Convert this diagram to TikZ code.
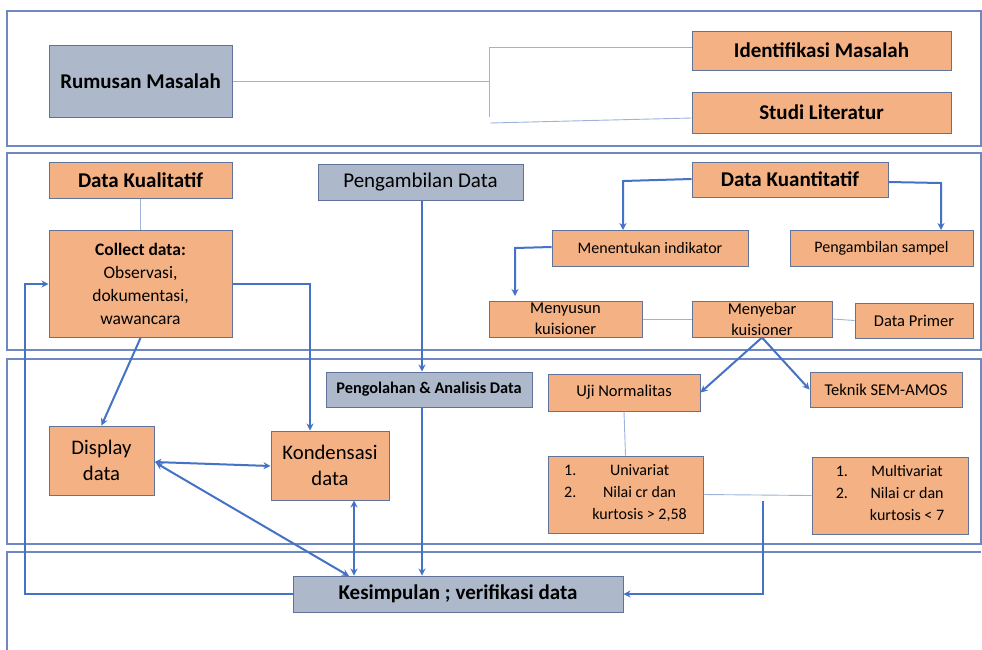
\documentclass[tikz,border=0pt]{standalone}
\usepackage{fontspec}
\setmainfont{Carlito}
\usetikzlibrary{arrows.meta}
\definecolor{orangef}{HTML}{F4B183}
\definecolor{oborder}{HTML}{61739A}
\definecolor{grayf}{HTML}{ADB9CA}
\definecolor{arrowblue}{HTML}{4472C4}
\definecolor{thinblue}{HTML}{9DB3DC}
\definecolor{framec}{HTML}{6F88C2}
\newcommand\fsz[1]{\fontsize{#1}{#1}\selectfont}
\tikzset{
  frame/.style={draw=framec, line width=1.3pt},
  obox/.style={fill=orangef, draw=oborder, line width=1pt, inner sep=0pt, align=center, text=black},
  gbox/.style={fill=grayf, draw=oborder, line width=1pt, inner sep=0pt, align=center, text=black},
  arr/.style={draw=arrowblue, line width=2pt, -{Stealth[length=7pt,width=7pt]}},
  darr/.style={draw=arrowblue, line width=2pt, {Stealth[length=7pt,width=7pt]}-{Stealth[length=7pt,width=7pt]}},
  thin/.style={draw=thinblue, line width=0.9pt},
  sz/.style n args={2}{minimum width=#1pt, minimum height=#2pt}
}
\begin{document}
\begin{tikzpicture}[x=1pt,y=-1pt]
\useasboundingbox (0,0) rectangle (982,649);
\fill[white] (0,0) rectangle (982,649);
% frames
\draw[frame] (7,11) rectangle (981,146);
\draw[frame] (7,153) rectangle (981,350);
\draw[frame] (7,359) rectangle (981,544);
\draw[frame] (7,655) -- (7,552) -- (981,552);
% top section
\node[gbox, sz={183}{72}, font=\bfseries\fsz{21}] (rm) at (140.5,81) {Rumusan Masalah};
\node[obox, sz={259}{39}, font=\bfseries\fsz{21}] (im) at (821.5,50.5) {Identifikasi Masalah};
\node[obox, sz={259}{41}, font=\bfseries\fsz{21}] (sl) at (821.5,112.5) {Studi Literatur};
\coordinate (br) at (489,81);
\draw[thin] (rm.east) -- (br);
\draw[thin] (489,47) -- (489,117);
\draw[thin] (489,47) -- (im.west |- 0,47);
\draw[thin] (490,123) -- (sl.west |- 0,118);
% second section
\node[obox, sz={183}{36}, font=\bfseries\fsz{21}] (dkl) at (140.5,180) {Data Kualitatif};
\node[obox, sz={183}{107}, font=\fsz{17.5}, align=center] (cd) at (140.5,284) {\textbf{Collect data:}\\[5.5pt]Observasi,\\[5.5pt]dokumentasi,\\[5.5pt]wawancara};
\node[gbox, sz={205}{36}, font=\fsz{21}] (pd) at (420.5,182) {Pengambilan Data};
\node[obox, sz={196}{35}, font=\bfseries\fsz{21}] (dkn) at (790,179.5) {Data Kuantitatif};
\node[obox, sz={196}{36}, font=\fsz{16}] (mi) at (650,248) {Menentukan indikator};
\node[obox, sz={183}{36}, font=\fsz{16}] (ps) at (881.5,248) {Pengambilan sampel};
\node[obox, sz={153}{36}, font=\fsz{16.5}] (mk) at (565.5,319) {Menyusun\\[4.5pt]kuisioner};
\node[obox, sz={140}{36}, font=\fsz{16.5}] (mb) at (762,319) {Menyebar\\[4.5pt]kuisioner};
\node[obox, sz={118}{35}, font=\fsz{16.5}] (dp) at (914,320.5) {Data Primer};
\draw[thin] (dkl.south) -- (cd.north);
\draw[thin] (mk.east) -- (mb.west);
\draw[thin] (mb.east) -- (dp.west);
\draw[arr] (dkn.west |- 0,179) -- (623,181) -- (623,230);
\draw[arr] (dkn.east |- 0,182) -- (941,183) -- (941,230);
\draw[arr] (mi.west |- 0,247) -- (515,248) -- (515,296);
% third section
\node[gbox, sz={206}{35}, font=\bfseries\fsz{16.3}] (pad) at (429,389.5) {Pengolahan \& Analisis Data};
\node[obox, sz={152}{37}, font=\fsz{16.5}] (un) at (624,392.5) {Uji Normalitas};
\node[obox, sz={152}{35}, font=\fsz{16.5}] (sem) at (886,389.5) {Teknik SEM-AMOS};
\node[obox, sz={155}{77}, font=\fsz{16}] (uv) at (625.5,494.5) {\begin{tabular}{@{}r@{\hspace{16pt}}c@{}}1. & Univariat\\[6pt] 2. & Nilai cr dan\\[6pt] & kurtosis > 2,58\end{tabular}};
\node[obox, sz={156}{77}, font=\fsz{16}] (mv) at (890,495.5) {\begin{tabular}{@{}r@{\hspace{22pt}}c@{}}1. & Multivariat\\[6pt] 2. & Nilai cr dan\\[6pt] & kurtosis < 7\end{tabular}};
\node[obox, sz={105}{69}, font=\fsz{20.7}] (dd) at (101.5,460.5) {Display\\[6pt]data};
\node[obox, sz={118}{69}, font=\fsz{20.7}] (kd) at (330,465.5) {Kondensasi\\[6pt]data};
\draw[thin] (un.south) -- (uv.north);
\draw[thin] (uv.east) -- (mv.west);
% bottom
\node[gbox, sz={330}{36}, font=\bfseries\fsz{21}] (ks) at (458,594) {Kesimpulan ; verifikasi data};
\coordinate (fr) at (763,501);
% arrows
\draw[arr] (mb.south) -- (un.east);
\draw[arr] (mb.south) -- (sem.west);
\draw[arr] (cd.south) -- (dd.north);
\draw[arr] (cd.east |- 0,284) -- (310,284) -- (kd.north -| 310,0);
\draw[darr] (dd.east |- 0,462) -- (kd.west |- 0,466);
\draw[darr] (156,463) -- (349,576);
\draw[darr] (kd.south -| 354,0) -- (ks.north -| 354,0);
\draw[arr] (pd.south -| 422,0) -- (pad.north -| 422,0);
\draw[arr] (pad.south -| 422,0) -- (ks.north -| 422,0);
\draw[arr] (ks.west) -- (25,594) -- (25,284) -- (cd.west |- 0,284);
\draw[arr] (fr) -- (763,594) -- (ks.east);
\end{tikzpicture}
\end{document}
